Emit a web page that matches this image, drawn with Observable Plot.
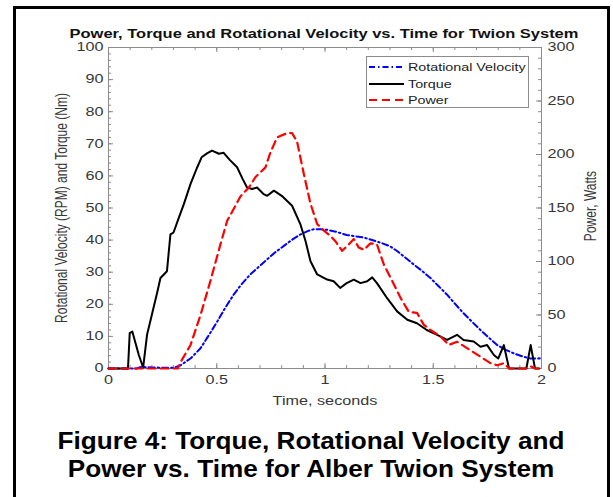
<!DOCTYPE html>
<html>
<head>
<meta charset="utf-8">
<script src="https://cdn.jsdelivr.net/npm/d3@7"></script>
<script src="https://cdn.jsdelivr.net/npm/@observablehq/plot@0.6"></script>
<style>
  html, body { margin: 0; padding: 0; background: #fff; overflow: hidden; }
  #wrap { position: relative; width: 613px; height: 497px; font-family: Arial, "Liberation Sans", sans-serif; }
  #wrap svg { position: absolute; left: 0; top: 0; }
  .abs { position: absolute; white-space: nowrap; }
  .ctr { position: absolute; width: 0; height: 0; }
  .ctr > div { position: absolute; left: 0; top: 0; white-space: nowrap; }
</style>
</head>
<body>
<div id="wrap"></div>
<script>
// ---- data ----
const torqueT = [0,0.09,0.098,0.11,0.14,0.16,0.178,0.2,0.226,0.24,0.27,0.286,0.3,0.325,0.348,0.379,0.41,0.43,0.455,0.478,0.51,0.532,0.56,0.594,0.62,0.64,0.664,0.686,0.717,0.733,0.764,0.8,0.848,0.886,0.91,0.933,0.964,1.01,1.04,1.07,1.1,1.133,1.164,1.195,1.218,1.24,1.287,1.333,1.38,1.425,1.47,1.518,1.564,1.61,1.64,1.687,1.718,1.749,1.78,1.8,1.826,1.85,1.93,1.95,1.97,1.99];
const torqueNm = [0,0,11,11.5,4.2,0.3,10.5,16.7,24,28.2,30.3,41.8,42.3,47,51.2,57.5,62.7,65.8,67,67.9,66.9,67.2,65,62.7,59,56.4,55.9,56.4,54.3,53.8,55.4,53.8,50.7,45,39.7,33.4,29.3,27.7,27.2,25.1,26.6,27.7,26.6,27.2,28.4,26.6,21.9,17.8,15.2,14.1,12,10.5,8.9,10.5,8.9,8.4,6.8,7.3,4.2,3.1,7.3,0,0,7.3,0,0];

const velT = [0,0.13,0.15,0.2,0.3,0.333,0.38,0.425,0.46,0.502,0.54,0.578,0.615,0.655,0.7,0.733,0.77,0.81,0.85,0.887,0.92,0.948,0.98,1.01,1.05,1.1,1.18,1.256,1.3,1.333,1.37,1.41,1.45,1.487,1.525,1.564,1.6,1.64,1.68,1.718,1.76,1.795,1.835,1.872,1.91,1.95,1.995];
const velRPM = [0,0,0.5,0.3,0.2,1,3.2,6.3,10,14.6,19,23,26.3,29.3,32,34,36.2,38.2,40.2,41.8,42.8,43.4,43.4,43.2,42.6,41.6,40.8,39.2,38.1,36.6,34.6,32.4,30.3,28.2,25.6,23,20.2,17.2,14.5,12,9.4,7.3,5.8,4.7,3.8,3.1,3.1];

const powerT = [0,0.32,0.333,0.379,0.425,0.471,0.517,0.548,0.578,0.61,0.648,0.679,0.725,0.748,0.779,0.825,0.848,0.871,0.902,0.933,0.964,0.994,1.025,1.048,1.079,1.11,1.133,1.156,1.18,1.21,1.24,1.272,1.31,1.349,1.387,1.425,1.456,1.487,1.533,1.572,1.61,1.656,1.703,1.733,1.764,1.795,1.826,1.85,1.93,1.95,1.97,2.0];
const powerW = [0,0,6,22,50,82,116,138,149,161,169,179,188,202,216,220,220,212,182,154,135,129,124,119,110,116,121,113,111,117,116,97,82,66,53,52,41,36,30,22,25,19,13,9,5,3,5,0,0,2,0,0];

// axis tick labels
const xTicks = [0, 0.5, 1, 1.5, 2];
const yTicks = [0, 10, 20, 30, 40, 50, 60, 70, 80, 90, 100];
const powerTicks = [0, 50, 100, 150, 200, 250, 300];
const xMinor = d3.range(0, 2.0001, 0.1);
const yMinor = d3.range(0, 100.001, 2);
const powerMinor = d3.range(0, 300.001, 10);

const seriesNames = ["Rotational Velocity", "Torque", "Power"];
const title = "Power, Torque and Rotational Velocity vs. Time for Twion System";
const yLabel = "Rotational Velocity (RPM) and Torque (Nm)";
const y2Label = "Power, Watts";
const xLabel = "Time, seconds";
const captionLines = ["Figure 4: Torque, Rotational Velocity and", "Power vs. Time for Alber Twion System"];

// ---- build tables ----
const torque = torqueT.map((t, i) => ({t, v: torqueNm[i]}));
const vel = velT.map((t, i) => ({t, v: velRPM[i]}));
const power = powerT.map((t, i) => ({t, w: powerW[i]}));
const W2L = 100 / 300; // right axis (W) -> left axis units

const W = 613, H = 497, mL = 108, mR = 72, mT = 47, mB = 129;
const pw = W - mL - mR, ph = H - mT - mB;
const axisGray = "#8c8c8c";
const labelGray = "#383838";
const blue = "#0000ff", red = "#ff0000";

const chart = Plot.plot({
  width: W, height: H,
  marginLeft: mL, marginRight: mR, marginTop: mT, marginBottom: mB,
  x: {domain: [0, 2]},
  y: {domain: [0, 100]},
  style: {fontFamily: "Arial, 'Liberation Sans', sans-serif", fontSize: "12px", color: labelGray, background: "transparent", overflow: "visible"},
  marks: [
    Plot.frame({stroke: axisGray, strokeWidth: 1}),
    // minor ticks (inward)
    Plot.tickY(yMinor, {y: d => d, insetRight: pw - 3, stroke: axisGray}),
    Plot.tickY(powerMinor, {y: d => d * W2L, insetLeft: pw - 3, stroke: axisGray}),
    Plot.tickX(xMinor, {x: d => d, insetTop: ph - 3, stroke: axisGray}),
    Plot.tickX(xMinor, {x: d => d, insetBottom: ph - 3, stroke: axisGray}),
    // major ticks (inward)
    Plot.tickY(yTicks, {y: d => d, insetRight: pw - 5, stroke: axisGray}),
    Plot.tickY(powerTicks, {y: d => d * W2L, insetLeft: pw - 5, stroke: axisGray}),
    Plot.tickX(xTicks, {x: d => d, insetTop: ph - 5, stroke: axisGray}),
    Plot.tickX(xTicks, {x: d => d, insetBottom: ph - 5, stroke: axisGray}),
    // tick labels
    Plot.axisX({ticks: xTicks, tickSize: 0, tickPadding: 7, tickFormat: d => String(d), label: null, fill: labelGray}),
    Plot.axisY({ticks: yTicks, tickSize: 0, tickPadding: 5, tickFormat: d => String(d), label: null, fill: labelGray}),
    Plot.axisY({anchor: "right", ticks: powerTicks.map(w => w * W2L), tickSize: 0, tickPadding: 6, tickFormat: d => String(Math.round(d / W2L)), label: null, fill: labelGray}),
    // series
    Plot.line(vel, {x: "t", y: "v", stroke: blue, strokeWidth: 2, strokeDasharray: "6,3,1.5,3"}),
    Plot.line(torque, {x: "t", y: "v", stroke: "#000", strokeWidth: 2, curve: "linear"}),
    Plot.line(power, {x: "t", y: d => d.w * W2L, stroke: red, strokeWidth: 2.2, strokeDasharray: "8,5"})
  ]
});

// horizontal stretch of the tick labels (the reference chart is stretched horizontally)
chart.querySelectorAll('g[aria-label$="tick label"] text').forEach(el => {
  const tr = el.getAttribute("transform");
  if (tr) el.setAttribute("transform", tr + " scale(1.35,1)");
  else {
    const x = +el.getAttribute("x") || 0;
    el.setAttribute("transform", `translate(${x},0) scale(1.35,1) translate(${-x},0)`);
  }
});

const wrap = document.getElementById("wrap");
wrap.appendChild(chart);

function addCentered(cx, cy, text, css, transform) {
  const c = document.createElement("div");
  c.className = "ctr";
  c.style.left = cx + "px";
  c.style.top = cy + "px";
  const d = document.createElement("div");
  d.textContent = text;
  d.style.cssText += css;
  d.style.transform = "translate(-50%,-50%) " + (transform || "");
  c.appendChild(d);
  wrap.appendChild(c);
}

addCentered(324, 33, title, "font-weight:bold;font-size:13.5px;line-height:13px;color:#111;", "scaleX(1.22)");
addCentered(62, 208, yLabel, "font-size:12px;color:" + labelGray + ";", "rotate(-90deg) scaleY(1.35)");
addCentered(591, 206, y2Label, "font-size:12px;color:" + labelGray + ";", "rotate(-90deg) scaleY(1.35)");
addCentered(324.5, 401, xLabel, "font-size:12px;color:" + labelGray + ";", "scaleX(1.35)");
addCentered(311, 441, captionLines[0], "font-weight:bold;font-size:24px;color:#000;", "scaleX(1.09)");
addCentered(311, 469, captionLines[1], "font-weight:bold;font-size:24px;color:#000;", "scaleX(1.09)");

// legend
const legend = document.createElement("div");
legend.className = "abs";
legend.style.cssText = "left:366px;top:56px;width:161px;height:50px;border:1px solid #8c8c8c;background:#fff;";
const styles = [
  {stroke: blue, dash: "6,3,1.5,3"},
  {stroke: "#000", dash: null},
  {stroke: red, dash: "8,5"}
];
seriesNames.forEach((name, i) => {
  const row = document.createElement("div");
  row.style.cssText = `position:absolute;left:1px;top:${2 + i * 16.7}px;height:16px;width:158px;`;
  row.innerHTML = `<svg width="36" height="16" style="position:absolute;left:0;top:0"><line x1="1" y1="8" x2="36" y2="8" stroke="${styles[i].stroke}" stroke-width="2" ${styles[i].dash ? `stroke-dasharray="${styles[i].dash}"` : ""}/></svg>`;
  const lab = document.createElement("div");
  lab.textContent = name;
  lab.style.cssText = "position:absolute;left:40px;top:0;line-height:16px;font-size:11px;color:#222;transform-origin:0 50%;transform:scaleX(1.3);white-space:nowrap;";
  row.appendChild(lab);
  legend.appendChild(row);
});
wrap.appendChild(legend);

// outer figure border
const border = document.createElement("div");
border.className = "abs";
border.style.cssText = "left:13px;top:6px;width:591px;height:520px;border:3px solid #000;pointer-events:none;";
wrap.appendChild(border);
</script>
</body>
</html>
